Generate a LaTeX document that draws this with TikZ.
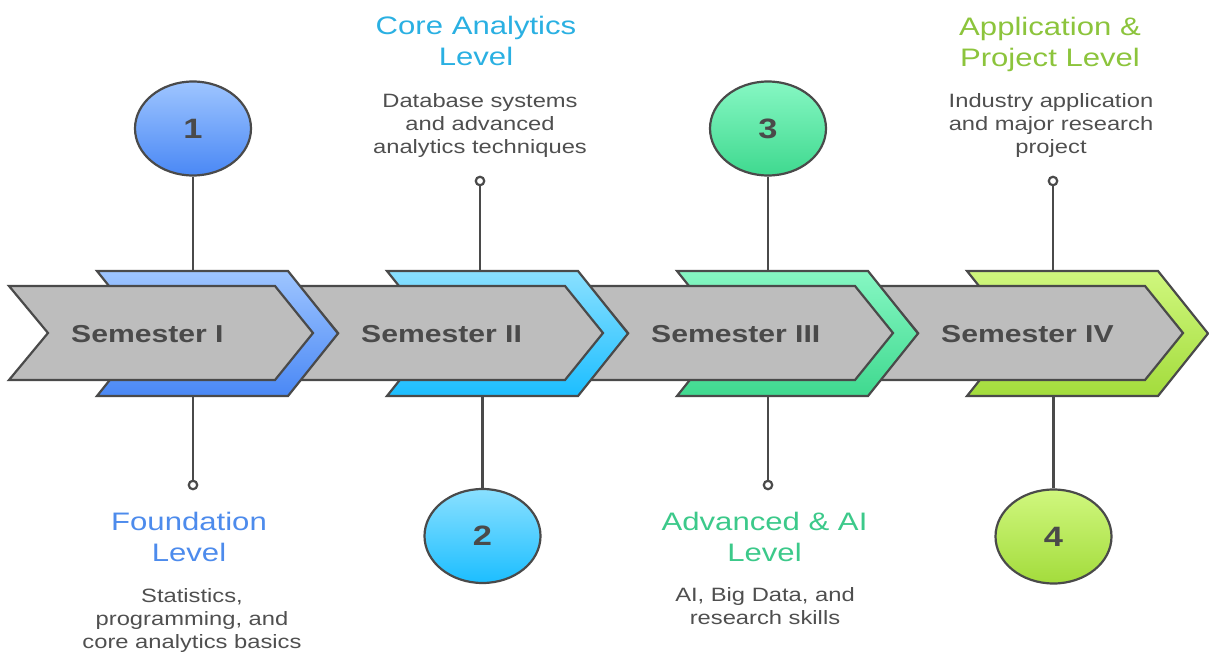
\documentclass[tikz,border=0pt]{standalone}
\usepackage{fontspec}
\setmainfont[FakeStretch=1.23]{Liberation Sans}
\usetikzlibrary{shapes.geometric}

\definecolor{edge}{HTML}{4A4A4A}
\definecolor{band}{HTML}{BDBDBD}
\definecolor{ink}{HTML}{4A4A4A}
\definecolor{desc}{HTML}{4F4F4F}
% stage colours: top / bottom of each gradient, and title colour
\definecolor{blueT}{HTML}{9EC5FF}\definecolor{blueB}{HTML}{4A88F5}\definecolor{blueTx}{HTML}{4D8BEC}
\definecolor{cyanT}{HTML}{8AE0FF}\definecolor{cyanB}{HTML}{1CBEFF}\definecolor{cyanTx}{HTML}{2AB0E2}
\definecolor{greenT}{HTML}{86F7C3}\definecolor{greenB}{HTML}{3FD98F}\definecolor{greenTx}{HTML}{3CC98A}
\definecolor{limeT}{HTML}{D0F77E}\definecolor{limeB}{HTML}{A3DC3C}\definecolor{limeTx}{HTML}{8CC43C}

\begin{document}
\begin{tikzpicture}[x=1pt,y=-1pt,
  outl/.style={draw=edge, line width=2.2pt, line join=miter},
  bandshape/.style={outl, fill=band},
  badge/.style={ellipse, outl, minimum width=116pt, minimum height=94pt, inner sep=0pt,
                font=\fontsize{28}{28}\selectfont\bfseries, text=ink},
  sem/.style={anchor=base west, inner sep=0pt, font=\fontsize{24.5}{24.5}\selectfont\bfseries, text=ink},
  % multi-line nodes: the base anchor sits on the last line
  ttl/.style={align=center, anchor=base, inner sep=0pt, font=\fontsize{25.3}{31}\selectfont},
  dsc/.style={align=center, anchor=base, inner sep=0pt, text=desc, font=\fontsize{19.3}{23}\selectfont},
  pinhead/.style={circle, draw=edge, line width=2.2pt, fill=white, minimum size=8.5pt, inner sep=0pt},
  link/.style={draw=edge, line width=2.2pt}]

\useasboundingbox (0,0) rectangle (1209,655);

% numbered badges and pin heads
\node[badge, top color=blueT, bottom color=blueB]   (c1) at (193,128.5) {1};
\node[badge, top color=cyanT, bottom color=cyanB]   (c2) at (482.5,536) {2};
\node[badge, top color=greenT, bottom color=greenB] (c3) at (768,128.5) {3};
\node[badge, top color=limeT, bottom color=limeB]   (c4) at (1053.5,536.5) {4};

\node[pinhead] (p1) at (193,485) {};
\node[pinhead] (p2) at (480,181) {};
\node[pinhead] (p3) at (768,485) {};
\node[pinhead] (p4) at (1053,181) {};

% attachment points on the chevron edges
\coordinate (t1) at (193,271);  \coordinate (b1) at (193,396);
\coordinate (b2) at (482.5,396); \coordinate (t2) at (480,271);
\coordinate (t3) at (768,271);  \coordinate (b3) at (768,396);
\coordinate (b4) at (1053.5,396); \coordinate (t4) at (1053,271);

\draw[link] (c1.south) -- (t1);  \draw[link] (b1) -- (p1.north);
\draw[link] (b2) -- (c2.north);  \draw[link] (p2.south) -- (t2);
\draw[link] (c3.south) -- (t3);  \draw[link] (b3) -- (p3.north);
\draw[link] (b4) -- (c4.north);  \draw[link] (p4.south) -- (t4);

% chevrons, drawn right to left so each one overlaps the next band
\foreach \k/\ct/\cb in {3/limeT/limeB, 2/greenT/greenB, 1/cyanT/cyanB, 0/blueT/blueB}{
  \begin{scope}[xshift=\k*290]
    \path[outl, top color=\ct, bottom color=\cb]
      (97,271) -- (288,271) -- (338,333.5) -- (288,396) -- (97,396) -- (147,333.5) -- cycle;
    \path[bandshape]
      (9,286) -- (275,286) -- (313,333) -- (275,380) -- (9,380) -- (48,333) -- cycle;
  \end{scope}
}

% semester labels
\node[sem] (s1) at (71,342)  {Semester I};
\node[sem] (s2) at (361,342) {Semester II};
\node[sem] (s3) at (651,342) {Semester III};
\node[sem] (s4) at (941,342) {Semester IV};

% level titles and descriptions
\node[ttl, text=blueTx]  (l1) at (189,561)  {Foundation\\Level};
\node[dsc]               (d1) at (192,648)  {Statistics,\\programming, and\\core analytics basics};

\node[ttl, text=cyanTx]  (l2) at (476,66)   {Core Analytics\\Level};
\node[dsc]               (d2) at (480,154)  {Database systems\\and advanced\\analytics techniques};

\node[ttl, text=greenTx] (l3) at (764.5,561) {Advanced \& AI\\Level};
\node[dsc]               (d3) at (765,624)  {AI, Big Data, and\\research skills};

\node[ttl, text=limeTx]  (l4) at (1050,67)  {Application \&\\Project Level};
\node[dsc]               (d4) at (1051,154) {Industry application\\and major research\\project};
\end{tikzpicture}
\end{document}
